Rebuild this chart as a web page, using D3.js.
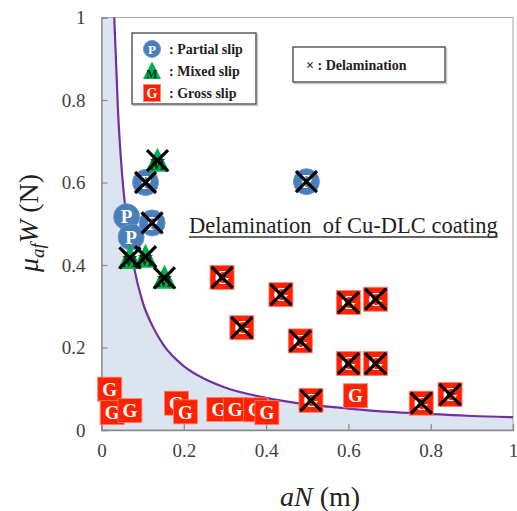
<!DOCTYPE html>
<html>
<head>
<meta charset="utf-8">
<script src="https://cdn.jsdelivr.net/npm/d3@7"></script>
<style>
  html, body { margin: 0; padding: 0; background: #fff; }
  svg { display: block; }
</style>
</head>
<body>
<svg id="chart" width="517" height="511"></svg>
<script>
// ---------- DATA ----------
const xTickValues = [0, 0.2, 0.4, 0.6, 0.8, 1];
const xTickLabels = ["0", "0.2", "0.4", "0.6", "0.8", "1"];
const yTickValues = [0, 0.2, 0.4, 0.6, 0.8, 1];
const yTickLabels = ["0", "0.2", "0.4", "0.6", "0.8", "1"];

// boundary curve (aN, mu_af W)
const curveX = [0.031, 0.04, 0.05, 0.06, 0.08, 0.10, 0.125, 0.15, 0.20, 0.25, 0.30, 0.40, 0.50, 0.60, 0.70, 0.80, 0.90, 1.00];
const curveY = [1.00, 0.775, 0.62, 0.52, 0.39, 0.31, 0.25, 0.207, 0.155, 0.124, 0.103, 0.078, 0.062, 0.052, 0.044, 0.039, 0.034, 0.031];

// Partial slip (blue circles) without delamination
const partialX   = [0.061, 0.072];
const partialY   = [0.517, 0.468];
// Partial slip with delamination
const partialX2  = [0.107, 0.123, 0.498];
const partialY2  = [0.600, 0.502, 0.602];

// Mixed slip (green triangles), all delaminated
const mixedX = [0.136, 0.069, 0.107, 0.153];
const mixedY = [0.653, 0.417, 0.420, 0.369];

// Gross slip (red squares) without delamination
const grossX = [0.020, 0.026, 0.069, 0.182, 0.204, 0.285, 0.325, 0.374, 0.402, 0.617];
const grossY = [0.099, 0.042, 0.047, 0.065, 0.044, 0.050, 0.050, 0.049, 0.042, 0.083];
// Gross slip with delamination
const grossDelX = [0.293, 0.436, 0.341, 0.483, 0.600, 0.666, 0.600, 0.666, 0.509, 0.777, 0.847];
const grossDelY = [0.370, 0.328, 0.248, 0.216, 0.309, 0.317, 0.161, 0.161, 0.072, 0.065, 0.086];

const legendItems = [": Partial slip", ": Mixed slip", ": Gross slip"];
const delamLabel = "\u00D7 : Delamination";
const regionLabel = "Delamination\u00A0 of Cu-DLC coating";

// ---------- LAYOUT ----------
const svg = d3.select("#chart");
const serif = "'Liberation Serif', 'Times New Roman', serif";
const x = d3.scaleLinear().domain([0, 1]).range([101.5, 513]);
const y = d3.scaleLinear().domain([0, 1]).range([430, 17.5]);

const blue = "#4a7ebb", green = "#00b050", red = "#ff2200";
const axisColor = "#8a8a8a";

// shaded region
const curvePts = curveX.map((v, i) => [v, curveY[i]]);
const areaPts = [[0, 1]].concat(curvePts);
svg.append("path")
  .datum(areaPts)
  .attr("fill", "#dce4f0")
  .attr("d", d3.area().x(d => x(d[0])).y0(y(0)).y1(d => y(d[1])).curve(d3.curveMonotoneX));

// frame
svg.append("rect")
  .attr("x", x(0)).attr("y", y(1))
  .attr("width", x(1) - x(0)).attr("height", y(0) - y(1))
  .attr("fill", "none").attr("stroke", "#a6a6a6").attr("stroke-width", 1);

// curve
svg.append("path")
  .datum(curvePts)
  .attr("fill", "none").attr("stroke", "#7030a0").attr("stroke-width", 2.2)
  .attr("d", d3.line().x(d => x(d[0])).y(d => y(d[1])).curve(d3.curveMonotoneX));

// axes
const xAxis = d3.axisBottom(x).tickValues(xTickValues).tickSize(-6).tickPadding(14)
  .tickFormat((d, i) => xTickLabels[i]);
const yAxis = d3.axisLeft(y).tickValues(yTickValues).tickSize(-6).tickPadding(16)
  .tickFormat((d, i) => yTickLabels[i]);

const gx = svg.append("g").attr("transform", `translate(0,${y(0)})`).call(xAxis);
const gy = svg.append("g").attr("transform", `translate(${x(0)},0)`).call(yAxis);
[gx, gy].forEach(g => {
  g.attr("font-family", serif);
  g.select(".domain").attr("stroke", axisColor).attr("stroke-width", 1.3);
  g.selectAll(".tick line").attr("stroke", axisColor).attr("stroke-width", 1.2);
  g.selectAll(".tick text").attr("font-family", serif).attr("font-size", 19).attr("fill", "#404040");
});
gy.selectAll(".tick text").attr("dy", "0.34em");

// axis titles
const xt = svg.append("text")
  .attr("x", 320).attr("y", 506)
  .attr("text-anchor", "middle")
  .attr("font-family", serif).attr("font-size", 28).attr("fill", "#222");
xt.append("tspan").attr("font-style", "italic").text("aN");
xt.append("tspan").text(" (m)");

const yt = svg.append("text")
  .attr("transform", "translate(38,223) rotate(-90)")
  .attr("text-anchor", "middle")
  .attr("font-family", serif).attr("font-size", 28).attr("fill", "#222");
yt.append("tspan").attr("font-style", "italic").text("\u03BC");
yt.append("tspan").attr("font-style", "italic").attr("font-size", 19).attr("dy", 6).text("af");
yt.append("tspan").attr("font-style", "italic").attr("dy", -6).text("W");
yt.append("tspan").text(" (N)");

// region label
const rl = svg.append("text")
  .attr("x", 189).attr("y", 233)
  .attr("font-family", serif).attr("font-size", 22.5).attr("fill", "#1e1e1e")
  .text(regionLabel);
const rlw = rl.node().getComputedTextLength();
svg.append("line")
  .attr("x1", 189).attr("x2", 189 + rlw)
  .attr("y1", 237).attr("y2", 237)
  .attr("stroke", "#333").attr("stroke-width", 1.3);

// ---------- MARKERS ----------
const gm = svg.append("g");

function circleMark(g, cx, cy, r, fs) {
  g.append("circle").attr("cx", cx).attr("cy", cy).attr("r", r)
    .attr("fill", blue).attr("stroke", "#6b97cc").attr("stroke-width", 1);
  g.append("text").attr("x", cx).attr("y", cy).attr("dy", "0.35em")
    .attr("text-anchor", "middle").attr("font-family", serif)
    .attr("font-weight", "bold").attr("font-size", fs).attr("fill", "#fff").text("P");
}
function triMark(g, cx, cy, hw, up, down, fs) {
  g.append("path")
    .attr("d", `M${cx},${cy - up}L${cx + hw},${cy + down}L${cx - hw},${cy + down}Z`)
    .attr("fill", green);
  g.append("text").attr("x", cx).attr("y", cy + down - 1.5)
    .attr("text-anchor", "middle").attr("font-family", serif)
    .attr("font-weight", "bold").attr("font-size", fs).attr("fill", "#0d3b1a").text("M");
}
function squareMark(g, cx, cy, s, fs) {
  g.append("rect").attr("x", cx - s / 2).attr("y", cy - s / 2).attr("width", s).attr("height", s)
    .attr("fill", red).attr("stroke", "#ff8070").attr("stroke-width", 0.8);
  g.append("text").attr("x", cx).attr("y", cy).attr("dy", "0.35em")
    .attr("text-anchor", "middle").attr("font-family", serif)
    .attr("font-weight", "bold").attr("font-size", fs).attr("fill", "#fff").text("G");
}
function crossMark(g, cx, cy, a) {
  g.append("path")
    .attr("d", `M${cx - a},${cy - a}L${cx + a},${cy + a}M${cx - a},${cy + a}L${cx + a},${cy - a}`)
    .attr("stroke", "#000").attr("stroke-width", 3.2).attr("stroke-linecap", "butt").attr("fill", "none");
}

// circles
partialX2.forEach((v, i) => circleMark(gm, x(v), y(partialY2[i]), 13, 19));
partialX.forEach((v, i) => circleMark(gm, x(v), y(partialY[i]), 13, 19));
// triangles
mixedX.forEach((v, i) => triMark(gm, x(v), y(mixedY[i]), 12, 13, 11, 16));
// squares
grossX.forEach((v, i) => squareMark(gm, x(v), y(grossY[i]), 24, 19));
grossDelX.forEach((v, i) => squareMark(gm, x(v), y(grossDelY[i]), 24, 19));
// crosses
partialX2.forEach((v, i) => crossMark(gm, x(v), y(partialY2[i]), 10.5));
mixedX.forEach((v, i) => crossMark(gm, x(v), y(mixedY[i]), 10.5));
grossDelX.forEach((v, i) => crossMark(gm, x(v), y(grossDelY[i]), 10.5));

// ---------- LEGENDS ----------
function box(x0, y0, w, h) {
  svg.append("rect").attr("x", x0 + 1.5).attr("y", y0 + 1.5).attr("width", w).attr("height", h)
    .attr("fill", "none").attr("stroke", "#c8c8c8").attr("stroke-width", 1.5);
  svg.append("rect").attr("x", x0).attr("y", y0).attr("width", w).attr("height", h)
    .attr("fill", "#fff").attr("stroke", "#5a5a5a").attr("stroke-width", 1.5);
}
box(132, 33, 124, 71);
const lg = svg.append("g");
circleMark(lg, 152, 49, 8.5, 13);
triMark(lg, 152, 71, 9, 9.5, 8, 12);
squareMark(lg, 152, 93, 17, 14);
legendItems.forEach((t, i) => {
  lg.append("text").attr("x", 169).attr("y", 49 + i * 22).attr("dy", "0.35em")
    .attr("font-family", serif).attr("font-weight", "bold").attr("font-size", 14)
    .attr("fill", "#1e1e1e").text(t);
});

box(293, 47, 152, 35);
svg.append("text").attr("x", 306).attr("y", 65).attr("dy", "0.35em")
  .attr("font-family", serif).attr("font-weight", "bold").attr("font-size", 14)
  .attr("fill", "#1e1e1e").text(delamLabel);
</script>
</body>
</html>
